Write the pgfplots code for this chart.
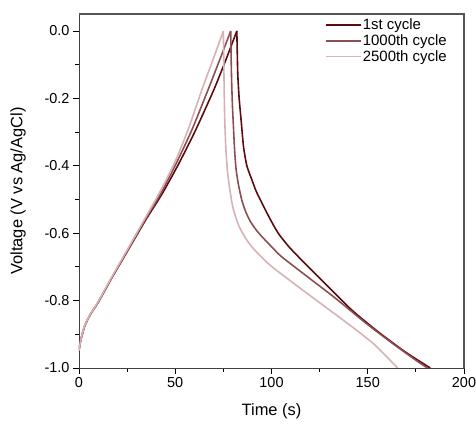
\documentclass[border=0pt]{standalone}
\usepackage{fontspec}
\setmainfont{Liberation Sans}
\usepackage{pgfplots}
\pgfplotsset{compat=1.18}
\definecolor{cycA}{RGB}{92,12,14}
\definecolor{cycB}{RGB}{140,78,82}
\definecolor{cycC}{RGB}{214,178,182}
\definecolor{frame}{RGB}{85,85,85}

\begin{document}
\begin{tikzpicture}
  \useasboundingbox (-79bp,-57bp) rectangle (397bp,368bp);
  \begin{axis}[
    scale only axis,
    anchor=south west, at={(0,0)},
    width=385bp, height=354bp,
    xmin=0, xmax=200, ymin=-1, ymax=0.0504,
    xtick={0,50,100,150,200},
    ytick={-1,-0.8,-0.6,-0.4,-0.2,0},
    minor tick num=1,
    tick align=outside,
    xtick pos=left, ytick pos=left,
    major tick length=6bp, minor tick length=3.5bp,
    every tick/.style={black, line width=0.9pt},
    axis line style={black!75, line width=1pt},
    /pgf/number format/assume math mode=true,
    yticklabel style={/pgf/number format/.cd, fixed, fixed zerofill, precision=1},
    tick label style={font=\fontsize{14.5}{16}\selectfont},
    label style={font=\fontsize{16.5}{18}\selectfont},
    xlabel={Time (s)},
    ylabel={Voltage (V vs Ag/AgCl)},
    xlabel style={at={(axis description cs:0.5,-0.121)}, anchor=center},
    ylabel style={at={(axis description cs:-0.158,0.5)}, anchor=center, rotate=0},
    legend cell align=left,
    legend style={draw=none, fill=none, at={(axis description cs:0.638,0.99)},
      anchor=north west, font=\fontsize{15}{16}\selectfont,
      row sep=1.5bp, inner sep=0pt,
      nodes={inner sep=1pt}},
    legend image code/.code={\draw[#1] (0cm,0cm) -- (1.25cm,0cm);},
  ]
    % 1st cycle: charge, then discharge
    \addplot[cycA, line width=1.6pt, smooth, tension=0.4] coordinates {
      (0,-0.948)(1,-0.915)(3,-0.875)(6,-0.840)(10,-0.805)(17.3,-0.730)
      (26,-0.645)(34.6,-0.561)(43.3,-0.482)(51.9,-0.393)(60.6,-0.294)
      (70,-0.175)(76,-0.090)(82,0.000)
    };
    \addlegendentry{1st cycle}
    \addplot[cycA, line width=1.6pt, smooth, tension=0.4, forget plot] coordinates {
      (82,0.000)(82.2,-0.06)(82.5,-0.13)(83.2,-0.20)(84.3,-0.27)(85.5,-0.345)
      (87.2,-0.400)(89.7,-0.440)(92,-0.475)(95,-0.510)(99,-0.555)(103.5,-0.600)
      (109,-0.640)(115.7,-0.680)(127.8,-0.749)(141.7,-0.828)(155.5,-0.893)
      (169.4,-0.952)(182.5,-1.000)
    };
    % 1000th cycle
    \addplot[cycB, line width=1.6pt, smooth, tension=0.4] coordinates {
      (0,-0.948)(1,-0.915)(3,-0.875)(6,-0.840)(9.9,-0.805)(17.2,-0.730)
      (25.8,-0.645)(34.2,-0.561)(42.5,-0.482)(50.5,-0.393)(58.6,-0.294)
      (67,-0.175)(72.8,-0.090)(78.8,0.000)
    };
    \addlegendentry{1000th cycle}
    \addplot[cycB, line width=1.6pt, smooth, tension=0.4, forget plot] coordinates {
      (78.8,0.000)(79.0,-0.07)(79.3,-0.15)(79.7,-0.22)(80.2,-0.28)(80.8,-0.35)
      (81.6,-0.410)(82.8,-0.455)(84.5,-0.500)(86.5,-0.535)(89,-0.565)
      (92,-0.590)(95,-0.610)(100,-0.640)(105.3,-0.670)(119.1,-0.731)
      (133,-0.792)(148.6,-0.865)(162.4,-0.925)(175,-0.977)(181,-1.000)
    };
    % 2500th cycle
    \addplot[cycC, line width=1.6pt, smooth, tension=0.4] coordinates {
      (0,-0.948)(1,-0.915)(2.9,-0.875)(5.9,-0.840)(9.8,-0.805)(17,-0.730)
      (25.5,-0.645)(33.8,-0.561)(41.6,-0.482)(49.5,-0.393)(56.6,-0.294)
      (63.8,-0.175)(69.3,-0.090)(75,0.000)
    };
    \addlegendentry{2500th cycle}
    \addplot[cycC, line width=1.6pt, smooth, tension=0.4, forget plot] coordinates {
      (75,0.000)(75.2,-0.08)(75.4,-0.17)(75.7,-0.26)(76.3,-0.35)(77.2,-0.420)
      (78.4,-0.472)(80,-0.525)(82.8,-0.575)(86,-0.610)(89.7,-0.640)
      (95,-0.672)(100.1,-0.699)(113.9,-0.759)(127.8,-0.818)(141.7,-0.877)
      (153.8,-0.932)(165.5,-1.000)
    };
  \end{axis}
  % frame on top and right
  \draw[frame, line width=1.4pt] (0,354bp) -- (385bp,354bp) -- (385bp,0);
\end{tikzpicture}
\end{document}
